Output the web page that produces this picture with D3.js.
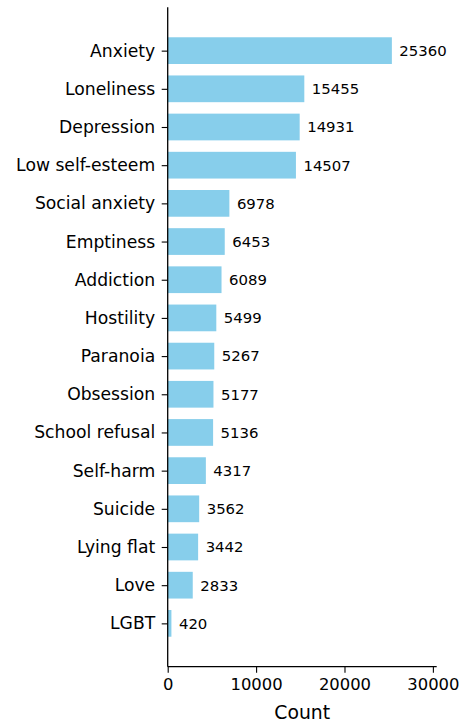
<!DOCTYPE html>
<html><head><meta charset="utf-8">
<script src="https://cdn.jsdelivr.net/npm/d3@7"></script>
<style>body{margin:0;background:#fff}svg{display:block}text{font-family:"DejaVu Sans",sans-serif;fill:#000}</style>
</head><body>
<script>
const categories = ["Anxiety","Loneliness","Depression","Low self-esteem","Social anxiety","Emptiness","Addiction","Hostility","Paranoia","Obsession","School refusal","Self-harm","Suicide","Lying flat","Love","LGBT"];
const counts = [25360,15455,14931,14507,6978,6453,6089,5499,5267,5177,5136,4317,3562,3442,2833,420];
const xTicks = [0,10000,20000,30000];

(function(){
const W = 464, H = 723;
const pl = 167.7, pr = 436.7, pt = 7.3, pb = 666.7;
const svg = d3.select("body").append("svg").attr("width", W).attr("height", H);

const x = d3.scaleLinear().domain([0, d3.max(counts) * 1.2]).range([pl, pr]);
const n = categories.length;
const barH = 0.7;
const mg = (n - 1 + barH) * 0.05;
const y = d3.scaleLinear().domain([-barH/2 - mg, n - 1 + barH/2 + mg]).range([pt, pb]);
const unit = y(1) - y(0);

svg.append("g").selectAll("rect").data(counts).join("rect")
  .attr("x", x(0))
  .attr("y", (d, i) => y(i) - unit * barH / 2)
  .attr("width", d => x(d) - x(0))
  .attr("height", unit * barH)
  .attr("fill", "#87CEEB");

svg.append("g").selectAll("text").data(counts).join("text")
  .attr("x", d => x(d) + 7.5)
  .attr("y", (d, i) => y(i))
  .attr("dy", "0.36em")
  .attr("font-size", 14.9)
  .text(d => d);

const yAxis = d3.axisLeft(y).tickValues(d3.range(n)).tickFormat(i => categories[i]).tickSize(6).tickPadding(6.5);
const gy = svg.append("g").attr("transform", `translate(${pl},0)`).call(yAxis);
gy.select(".domain").attr("stroke-width", 1.3).attr("d", `M0,${pt}V${pb}`);
gy.selectAll(".tick line").attr("stroke-width", 1.1);
gy.selectAll(".tick text").attr("font-size", 17.2).attr("font-family", "DejaVu Sans").attr("fill", "#000");

const xAxis = d3.axisBottom(x).tickValues(xTicks).tickFormat(d3.format("d")).tickSize(6).tickPadding(5.5);
const gx = svg.append("g").attr("transform", `translate(0,${pb})`).call(xAxis);
gx.select(".domain").attr("stroke-width", 1.3).attr("d", `M${pl},0H${pr}`);
gx.selectAll(".tick line").attr("stroke-width", 1.1);
gx.selectAll(".tick text").attr("font-size", 16.4).attr("font-family", "DejaVu Sans").attr("fill", "#000");

svg.append("text").attr("x", (pl + pr) / 2).attr("y", 718.5)
  .attr("text-anchor", "middle").attr("font-size", 18.8).text("Count");
})();
</script>
</body></html>
